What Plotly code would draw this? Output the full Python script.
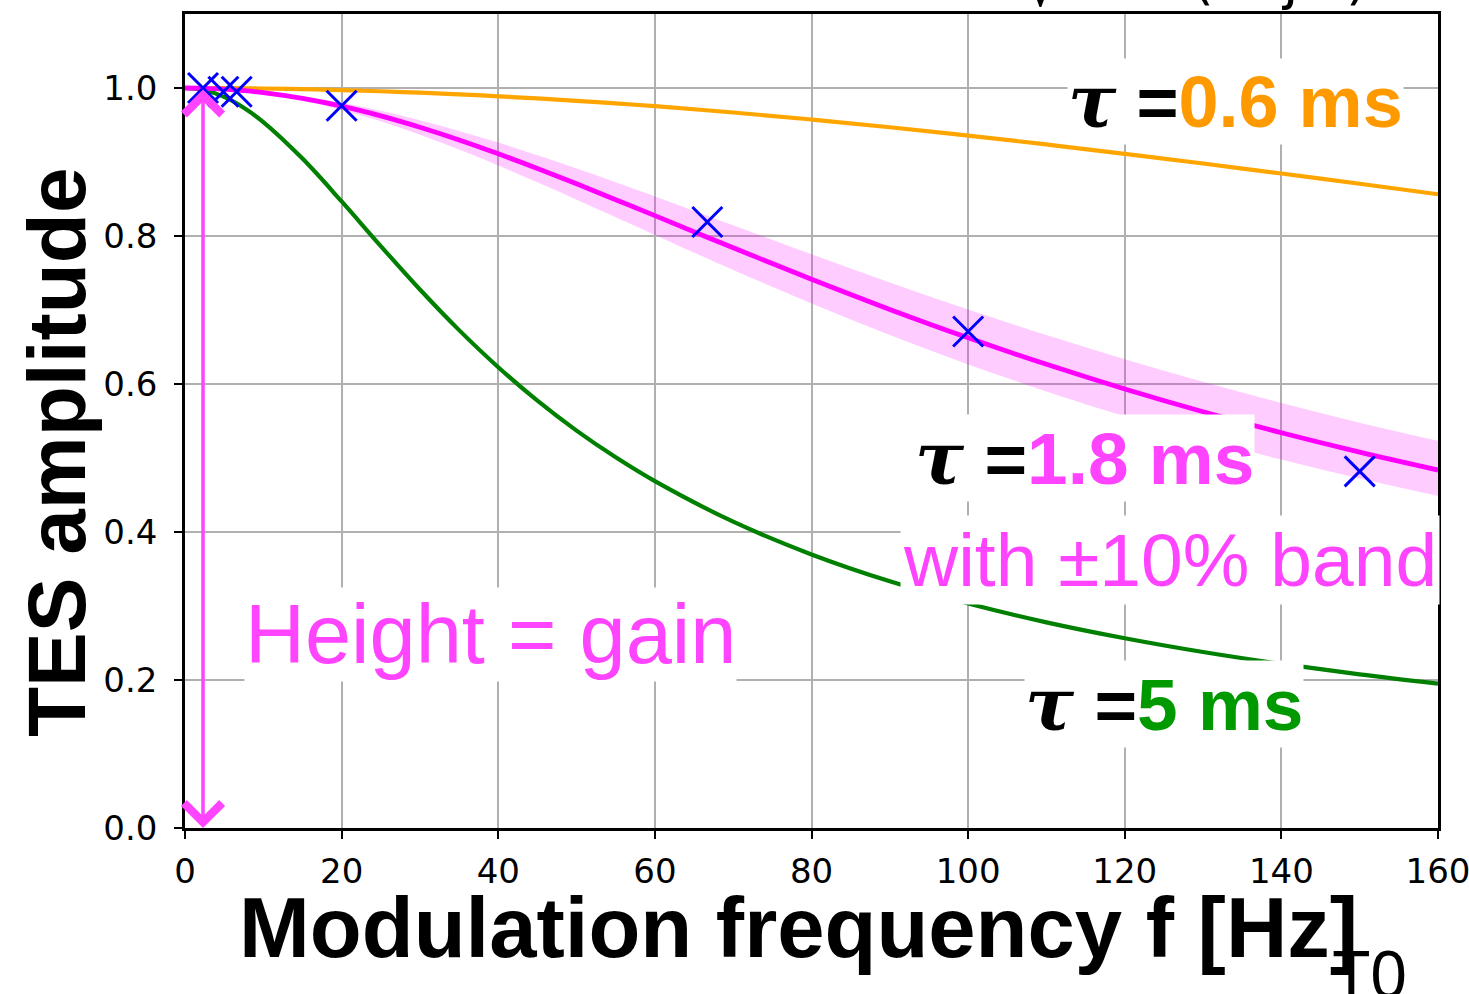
import plotly.graph_objects as go

# ---- data ----
freq = [0, 2.5, 5, 7.5, 10, 15, 20, 25, 30, 35, 40, 45, 50, 55, 60, 70, 80, 90,
        100, 110, 120, 130, 140, 150, 160]
amp_tau06 = [1.0, 1.0, 0.9998, 0.9996, 0.9993, 0.9984, 0.9972, 0.9956, 0.9937, 0.9915,
             0.9888, 0.9859, 0.9827, 0.9792, 0.9754, 0.9669, 0.9574, 0.9470, 0.9357,
             0.9237, 0.9111, 0.8980, 0.8844, 0.8706, 0.8564]
amp_tau18 = [1.0, 0.9996, 0.9984, 0.9964, 0.9937, 0.9859, 0.9754, 0.9623, 0.9469, 0.9298,
             0.9111, 0.8912, 0.8705, 0.8491, 0.8275, 0.7840, 0.7415, 0.7008, 0.6624,
             0.6266, 0.5933, 0.5625, 0.5341, 0.5079, 0.4837]
band_upper = [1.0, 0.9997, 0.9987, 0.9971, 0.9949, 0.9885, 0.9799, 0.9691, 0.9564, 0.9420,
              0.9262, 0.9091, 0.8912, 0.8725, 0.8535, 0.8144, 0.7754, 0.7373, 0.7008,
              0.6661, 0.6334, 0.6029, 0.5744, 0.5478, 0.5232]
band_lower = [1.0, 0.9995, 0.9981, 0.9957, 0.9924, 0.9830, 0.9704, 0.9549, 0.9368, 0.9168,
              0.8952, 0.8725, 0.8491, 0.8253, 0.8014, 0.7541, 0.7088, 0.6661, 0.6265,
              0.5900, 0.5565, 0.5259, 0.4979, 0.4723, 0.4488]
amp_tau5 = [1.0, 0.9969, 0.9879, 0.9733, 0.9540, 0.9046, 0.8467, 0.7864, 0.7277, 0.6728,
            0.6227, 0.5775, 0.5370, 0.5009, 0.4687, 0.4139, 0.3697, 0.3334, 0.3033,
            0.2779, 0.2564, 0.2378, 0.2217, 0.2076, 0.1951]

meas_freq = [2.3, 4.9, 6.6, 20, 66.7, 100, 150]
meas_amp = [1.0, 0.995, 0.995, 0.976, 0.819, 0.671, 0.482]

x_ticks = [0, 20, 40, 60, 80, 100, 120, 140, 160]
y_ticks = [0.0, 0.2, 0.4, 0.6, 0.8, 1.0]

arrow_freq = 2.3
arrow_top, arrow_bottom = 1.0, 0.0

ORANGE = "#FFA500"
MAGENTA = "#FF00FF"
GREEN = "#008000"
TXT_MAG = "#FF44FF"
TXT_ORA = "#FF9900"
TXT_GRN = "#009900"

SANS = "Liberation Sans"
TAU = "<span style='font-family:DejaVu Serif'><b><i>τ</i></b></span>"

fig = go.Figure()

fig.add_trace(go.Scatter(x=freq, y=amp_tau5, mode="lines", line=dict(color=GREEN, width=4.2, shape="spline"),
                         showlegend=False, hoverinfo="skip"))
fig.add_trace(go.Scatter(x=freq, y=amp_tau06, mode="lines", line=dict(color=ORANGE, width=4.2, shape="spline"),
                         showlegend=False, hoverinfo="skip"))
fig.add_trace(go.Scatter(x=freq, y=band_lower, mode="lines", line=dict(width=0, shape="spline"),
                         showlegend=False, hoverinfo="skip"))
fig.add_trace(go.Scatter(x=freq, y=band_upper, mode="lines", line=dict(width=0, shape="spline"),
                         fill="tonexty", fillcolor="rgba(255,0,255,0.2)", showlegend=False, hoverinfo="skip"))
fig.add_trace(go.Scatter(x=freq, y=amp_tau18, mode="lines", line=dict(color=MAGENTA, width=4.8, shape="spline"),
                         showlegend=False, hoverinfo="skip"))
fig.add_trace(go.Scatter(x=meas_freq, y=meas_amp, mode="markers",
                         marker=dict(symbol="x-thin", size=30, line=dict(color="#0000FF", width=3)),
                         showlegend=False, hoverinfo="skip"))

L, R, T, B = 185, 1438, 14, 828
W, H = 1469, 994


def px2paper(px, py):
    return (px - L) / (R - L), (B - py) / (B - T)


# double headed arrow
fig.add_annotation(x=arrow_freq, y=arrow_bottom, ax=arrow_freq, ay=arrow_top, xref="x", yref="y",
                   axref="x", ayref="y", text="", showarrow=True, arrowhead=4, startarrowhead=4,
                   arrowside="end+start", arrowsize=2.1, startarrowsize=2.1, arrowwidth=3.5,
                   arrowcolor=TXT_MAG, standoff=0, startstandoff=0)


def tau_label(x, y, value, color, size=73):
    fig.add_annotation(x=x, y=y, xref="x", yref="y", showarrow=False,
                       text=f"{TAU}<b> =</b><b><span style='color:{color}'>{value}</span></b>",
                       font=dict(family=SANS, size=size, color="black"), bgcolor="white", borderpad=0,
                       xanchor="center", yanchor="middle")


tau_label(134.2, 0.982, "0.6 ms", TXT_ORA, size=72)
tau_label(114.8, 0.500, "1.8 ms", TXT_MAG)
tau_label(125.0, 0.168, "5 ms", TXT_GRN)
fig.add_annotation(x=125.8, y=0.362, xref="x", yref="y", showarrow=False, text="with ±10% band",
                   font=dict(family=SANS, size=75, color=TXT_MAG), bgcolor="white", borderpad=2,
                   xanchor="center", yanchor="middle")
fig.add_annotation(x=39.0, y=0.262, xref="x", yref="y", showarrow=False, text="Height = gain",
                   font=dict(family=SANS, size=83, color=TXT_MAG), bgcolor="white", borderpad=0,
                   xanchor="center", yanchor="middle")

# axis titles
ax_x, ax_y = px2paper(798, 927)
fig.add_annotation(x=ax_x, y=ax_y, xref="paper", yref="paper", showarrow=False,
                   text="<b>Modulation frequency f [Hz]</b>", font=dict(family=SANS, size=85, color="black"),
                   xanchor="center", yanchor="middle")
ay_x, ay_y = px2paper(57, 452)
fig.add_annotation(x=ay_x, y=ay_y, xref="paper", yref="paper", showarrow=False,
                   text="<b>TES amplitude</b>", textangle=-90, font=dict(family=SANS, size=82, color="black"),
                   xanchor="center", yanchor="middle")

# clipped formula fragments at top edge
for cx, cy, ch in [(1043, 20, "√"), (1203, 12, "("), (1290, 12, "j"), (1357, 12, ")")]:
    px, py = px2paper(cx, cy)
    fig.add_annotation(x=px, y=py, xref="paper", yref="paper", text=ch, showarrow=False,
                       font=dict(family="DejaVu Sans", size=56, color="black"),
                       xanchor="center", yanchor="bottom", borderpad=0)
# clipped subscript at bottom right
px, py = px2paper(1370, 972)
fig.add_annotation(x=px, y=py, xref="paper", yref="paper", text="T0", showarrow=False,
                   font=dict(family="Noto Sans", size=66, color="black"),
                   xanchor="center", yanchor="middle")

axis_common = dict(showgrid=True, gridcolor="#B0B0B0", gridwidth=2,
                   showline=True, linecolor="black", linewidth=2.5, mirror=True,
                   ticks="outside", ticklen=8, tickwidth=2, tickcolor="black",
                   tickfont=dict(family="DejaVu Sans", size=34, color="black"), zeroline=False,
                   ticklabeloverflow="allow", automargin=False)
fig.update_xaxes(range=[0, 160], tickvals=x_ticks, ticktext=[str(v) for v in x_ticks],
                 ticklabelstandoff=3, **axis_common)
fig.update_yaxes(range=[0, 1.1], tickvals=y_ticks, ticktext=[f"{v:.1f}" for v in y_ticks],
                 ticklabelstandoff=10, **axis_common)

fig.update_layout(width=W, height=H, margin=dict(l=L, r=W - R, t=T, b=H - B, pad=0, autoexpand=False),
                  plot_bgcolor="white", paper_bgcolor="white", showlegend=False)

fig.write_html("out.html", config={"displayModeBar": False},
               post_script="document.body.style.margin='0';document.body.style.overflow='hidden';")
